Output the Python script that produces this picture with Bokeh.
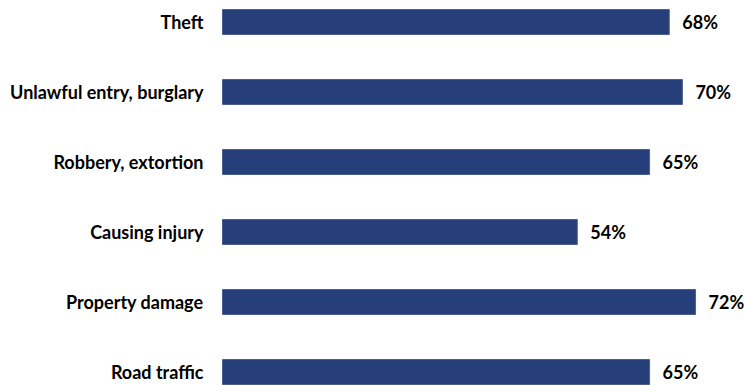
from bokeh.plotting import figure
from bokeh.models import ColumnDataSource, Range1d
from bokeh.core.properties import value
from bokeh.embed import file_html
from bokeh.resources import INLINE

categories = ["Theft", "Unlawful entry, burglary", "Robbery, extortion",
              "Causing injury", "Property damage", "Road traffic"]
values = [68, 70, 65, 54, 72, 65]
value_labels = ["68%", "70%", "65%", "54%", "72%", "65%"]

n = len(categories)
ypos = [n - 1 - i for i in range(n)]
source = ColumnDataSource(dict(cat=categories, val=values, lab=value_labels,
                               y=ypos, zero=[0] * n))

px_per_unit = 6.57
W, H = 744, 385
left_px = 222
row_px = 70.0
p = figure(width=W, height=H, output_backend="svg", toolbar_location=None,
           x_range=Range1d(-left_px / px_per_unit, (W - left_px) / px_per_unit),
           y_range=Range1d(-(H - 371.5) / row_px, 5 + 21.5 / row_px),
           min_border=0, outline_line_color=None)
p.axis.visible = False
p.grid.visible = False
p.background_fill_color = "white"

p.hbar(y="y", left=0, right="val", height=25 / row_px, source=source,
       fill_color="#263F7A", line_color="#4A5F90", line_width=1)

p.text(x="zero", y="y", text="cat", source=source, x_offset=-19,
       text_align="right", text_baseline="middle",
       text_font=value("Lato"), text_font_style="bold",
       text_font_size="18px", text_color="#000000")
p.text(x="val", y="y", text="lab", source=source, x_offset=13,
       text_align="left", text_baseline="middle",
       text_font=value("Lato"), text_font_style="bold",
       text_font_size="18px", text_color="#000000")

open("out.html", "w").write(file_html(p, INLINE))
